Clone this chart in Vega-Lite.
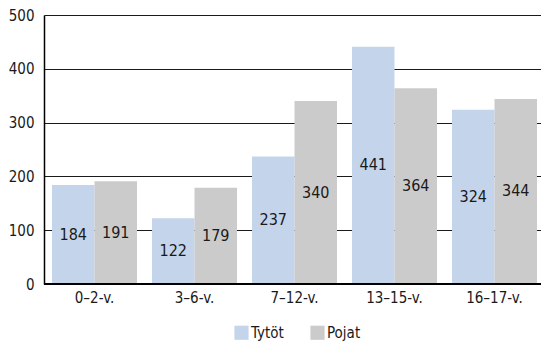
{
  "$schema": "https://vega.github.io/schema/vega-lite/v6.json",
  "width": 497,
  "height": 269,
  "autosize": {"type": "none"},
  "padding": {"left": 44, "top": 15, "right": 0, "bottom": 62},
  "background": "white",
  "config": {
    "font": "DejaVu Sans Condensed",
    "view": {"stroke": null}
  },
  "data": {
    "values": [
      {"ika": "0–2-v.", "sukupuoli": "Tytöt", "arvo": 184},
      {"ika": "0–2-v.", "sukupuoli": "Pojat", "arvo": 191},
      {"ika": "3–6-v.", "sukupuoli": "Tytöt", "arvo": 122},
      {"ika": "3–6-v.", "sukupuoli": "Pojat", "arvo": 179},
      {"ika": "7–12-v.", "sukupuoli": "Tytöt", "arvo": 237},
      {"ika": "7–12-v.", "sukupuoli": "Pojat", "arvo": 340},
      {"ika": "13–15-v.", "sukupuoli": "Tytöt", "arvo": 441},
      {"ika": "13–15-v.", "sukupuoli": "Pojat", "arvo": 364},
      {"ika": "16–17-v.", "sukupuoli": "Tytöt", "arvo": 324},
      {"ika": "16–17-v.", "sukupuoli": "Pojat", "arvo": 344}
    ]
  },
  "encoding": {
    "x": {
      "field": "ika", "type": "nominal", "sort": null, "title": null,
      "scale": {"paddingInner": 0.15, "paddingOuter": 0.06, "align": 0.667},
      "axis": {"labelAngle": 0, "ticks": false, "domain": false, "labelFontSize": 15, "labelColor": "#1a1a1a", "labelPadding": 6, "labelFont": "DejaVu Sans Condensed"}
    },
    "xOffset": {"field": "sukupuoli", "type": "nominal", "sort": ["Tytöt", "Pojat"]}
  },
  "layer": [
    {
      "mark": {"type": "bar"},
      "encoding": {
        "y": {
          "field": "arvo", "type": "quantitative", "title": null,
          "scale": {"domain": [0, 500], "nice": false},
          "axis": {"values": [0, 100, 200, 300, 400, 500], "grid": true, "gridColor": "#1a1a1a", "gridWidth": 1, "gridOpacity": 1, "domain": true, "domainColor": "#000000", "domainWidth": 1.5, "ticks": false, "labelFontSize": 15, "labelColor": "#1a1a1a", "labelPadding": 10, "labelFont": "DejaVu Sans Condensed"}
        },
        "color": {
          "field": "sukupuoli", "type": "nominal", "sort": ["Tytöt", "Pojat"],
          "scale": {"domain": ["Tytöt", "Pojat"], "range": ["#c4d5eb", "#cbcbcb"]},
          "legend": {"orient": "none", "legendX": 190, "legendY": 310, "title": null, "direction": "horizontal", "symbolType": "square", "symbolSize": 200, "symbolStrokeWidth": 0, "labelFontSize": 15, "labelColor": "#1a1a1a", "labelFont": "DejaVu Sans Condensed", "columnPadding": 26, "symbolOffset": 0, "labelOffset": 2}
        }
      }
    },
    {
      "mark": {"type": "rule", "color": "#000000", "strokeWidth": 1.5},
      "encoding": {"y": {"datum": 0}, "x": null, "xOffset": null}
    },
    {
      "transform": [{"calculate": "datum.arvo / 2", "as": "puoli"}],
      "mark": {"type": "text", "fontSize": 16, "color": "#1a1a1a", "font": "DejaVu Sans Condensed", "baseline": "middle"},
      "encoding": {
        "y": {"field": "puoli", "type": "quantitative"},
        "text": {"field": "arvo", "type": "quantitative"}
      }
    }
  ]
}
